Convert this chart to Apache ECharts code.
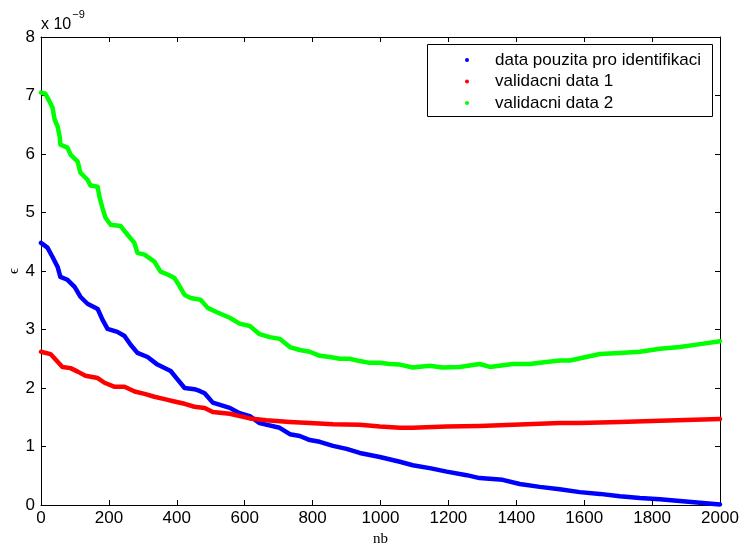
<!DOCTYPE html>
<html>
<head>
<meta charset="utf-8">
<script src="https://cdn.jsdelivr.net/npm/echarts@6/dist/echarts.min.js"></script>
<style>
  html, body { margin: 0; padding: 0; background: #fff; }
  #chart { width: 739px; height: 546px; }
</style>
</head>
<body>
<div id="chart"></div>
<script>
// Error criterion vs. number of basis functions; values are in units of 1e-9.
const seriesNames = ['data pouzita pro identifikaci', 'validacni data 1', 'validacni data 2'];
const seriesColors = ['#0000ff', '#ff0000', '#00ff00'];

const identNb = [0, 19, 34, 49, 57, 78, 99, 116, 137, 167, 181, 196, 225, 246, 264, 284, 314, 343, 382, 396,
  423, 452, 467, 482, 506, 556, 585, 615, 644, 703, 733, 762, 792, 821, 860, 900, 939, 998, 1057, 1095,
  1145, 1195, 1254, 1292, 1360, 1410, 1469, 1528, 1587, 1646, 1705, 1764, 1823, 1882, 1941, 2000];
const identVal = [4.48, 4.40, 4.24, 4.07, 3.90, 3.85, 3.73, 3.56, 3.44, 3.35, 3.17, 3.01, 2.96, 2.89, 2.74, 2.60, 2.53, 2.40, 2.29, 2.19,
  2.00, 1.98, 1.95, 1.91, 1.75, 1.66, 1.57, 1.52, 1.40, 1.32, 1.21, 1.18, 1.11, 1.08, 1.01, 0.96, 0.89, 0.82, 0.74, 0.68,
  0.63, 0.57, 0.51, 0.46, 0.43, 0.36, 0.31, 0.27, 0.22, 0.19, 0.15, 0.12, 0.10, 0.07, 0.04, 0.01];

const valid1Nb = [0, 28, 49, 63, 87, 108, 131, 167, 187, 217, 246, 276, 305, 334, 364, 393, 423, 452, 482, 506,
  556, 615, 664, 733, 792, 860, 939, 998, 1057, 1095, 1195, 1292, 1390, 1528, 1587, 1705, 1823, 2000];
const valid1Val = [2.62, 2.58, 2.45, 2.36, 2.34, 2.28, 2.21, 2.17, 2.09, 2.02, 2.02, 1.94, 1.90, 1.85, 1.81, 1.77, 1.73, 1.68, 1.66, 1.59,
  1.56, 1.48, 1.45, 1.42, 1.40, 1.38, 1.37, 1.34, 1.32, 1.32, 1.34, 1.35, 1.37, 1.40, 1.40, 1.42, 1.44, 1.47];

const valid2Nb = [0, 13, 25, 34, 40, 49, 55, 57, 78, 87, 108, 116, 137, 146, 167, 172, 181, 190, 205, 234,
  255, 275, 284, 305, 334, 352, 373, 393, 402, 423, 441, 470, 491, 520, 556, 585, 615, 644, 674, 703,
  733, 762, 792, 821, 851, 880, 909, 939, 968, 998, 1027, 1057, 1095, 1145, 1183, 1233, 1292, 1322, 1390, 1440,
  1469, 1528, 1558, 1646, 1705, 1764, 1823, 1882, 1941, 2000];
const valid2Val = [7.05, 7.03, 6.90, 6.79, 6.59, 6.47, 6.30, 6.16, 6.11, 5.99, 5.87, 5.68, 5.56, 5.46, 5.44, 5.27, 5.08, 4.91, 4.79, 4.77,
  4.62, 4.48, 4.31, 4.28, 4.16, 3.99, 3.94, 3.88, 3.80, 3.59, 3.54, 3.51, 3.37, 3.29, 3.20, 3.10, 3.06, 2.92, 2.87, 2.84,
  2.70, 2.65, 2.62, 2.55, 2.53, 2.50, 2.50, 2.46, 2.43, 2.43, 2.41, 2.40, 2.35, 2.38, 2.35, 2.36, 2.41, 2.36, 2.41, 2.41,
  2.43, 2.47, 2.47, 2.58, 2.60, 2.62, 2.67, 2.70, 2.75, 2.80];

const xTicks = { min: 0, max: 2000, step: 200 };
const yTicks = { min: 0, max: 8, step: 1 };

const pairs = (xs, ys) => xs.map((x, i) => [x, ys[i]]);
const seriesData = [pairs(identNb, identVal), pairs(valid1Nb, valid1Val), pairs(valid2Nb, valid2Val)];

const sans = "'Liberation Sans', Arial, Helvetica, sans-serif";
const serif = "'Liberation Serif', 'DejaVu Serif', 'Times New Roman', serif";

const axisLine = { show: true, onZero: false, lineStyle: { color: '#000', width: 1 } };
const axisTick = { show: true, inside: true, length: 5, lineStyle: { color: '#000', width: 1 } };
const labelStyle = { color: '#000', fontSize: 17, fontFamily: sans, formatter: v => String(v) };

const chart = echarts.init(document.getElementById('chart'), null, { renderer: 'canvas' });
chart.setOption({
  animation: false,
  backgroundColor: '#fff',
  grid: { left: 41, right: 19, top: 37, bottom: 41, containLabel: false, outerBoundsMode: 'none' },
  xAxis: [
    {
      type: 'value', position: 'bottom', min: xTicks.min, max: xTicks.max, interval: xTicks.step,
      axisLine, axisTick, splitLine: { show: false },
      axisLabel: Object.assign({ margin: 5 }, labelStyle),
      name: 'nb', nameLocation: 'middle', nameGap: 27, nameMoveOverlap: false,
      nameTextStyle: { color: '#000', fontSize: 15, fontFamily: serif }
    },
    {
      type: 'value', position: 'top', min: xTicks.min, max: xTicks.max, interval: xTicks.step,
      axisLine, axisTick, splitLine: { show: false }, axisLabel: { show: false }
    }
  ],
  yAxis: [
    {
      type: 'value', position: 'left', min: yTicks.min, max: yTicks.max, interval: yTicks.step,
      axisLine, axisTick, splitLine: { show: false },
      axisLabel: Object.assign({ margin: 6 }, labelStyle),
      name: 'ϵ', nameLocation: 'middle', nameGap: 19, nameRotate: 90, nameMoveOverlap: false,
      nameTextStyle: { color: '#000', fontSize: 15, fontFamily: serif }
    },
    {
      type: 'value', position: 'right', min: yTicks.min, max: yTicks.max, interval: yTicks.step,
      axisLine, axisTick, splitLine: { show: false }, axisLabel: { show: false }
    }
  ],
  legend: {
    orient: 'vertical', left: 427, top: 44,
    padding: [6.5, 5, 5, 38],
    icon: 'circle', itemWidth: 46, itemHeight: 4, itemGap: 2.5,
    textStyle: { color: '#000', fontSize: 17, fontFamily: sans, lineHeight: 19 },
    data: seriesNames,
    z: 10
  },
  graphic: [
    {
      type: 'rect', z: 9,
      shape: { x: 427.5, y: 44.5, width: 285, height: 72 },
      style: { fill: '#fff', stroke: '#000', lineWidth: 1 }
    },
    {
      type: 'text', left: 41, top: 9,
      style: {
        text: '{b|x 10}{s|−9}',
        rich: {
          b: { fontSize: 16, fontFamily: sans, fill: '#000', verticalAlign: 'bottom', lineHeight: 24 },
          s: { fontSize: 11, fontFamily: sans, fill: '#000', verticalAlign: 'top', lineHeight: 24, padding: [0, 0, 14, 1] }
        }
      }
    }
  ],
  series: seriesNames.map((name, i) => ({
    name,
    type: 'line',
    xAxisIndex: 0, yAxisIndex: 0,
    data: seriesData[i],
    showSymbol: false,
    symbol: 'circle',
    color: seriesColors[i],
    lineStyle: { color: seriesColors[i], width: 4.5, join: 'round', cap: 'round' },
    itemStyle: { color: seriesColors[i] },
    smooth: false,
    z: 2
  }))
});
</script>
</body>
</html>
